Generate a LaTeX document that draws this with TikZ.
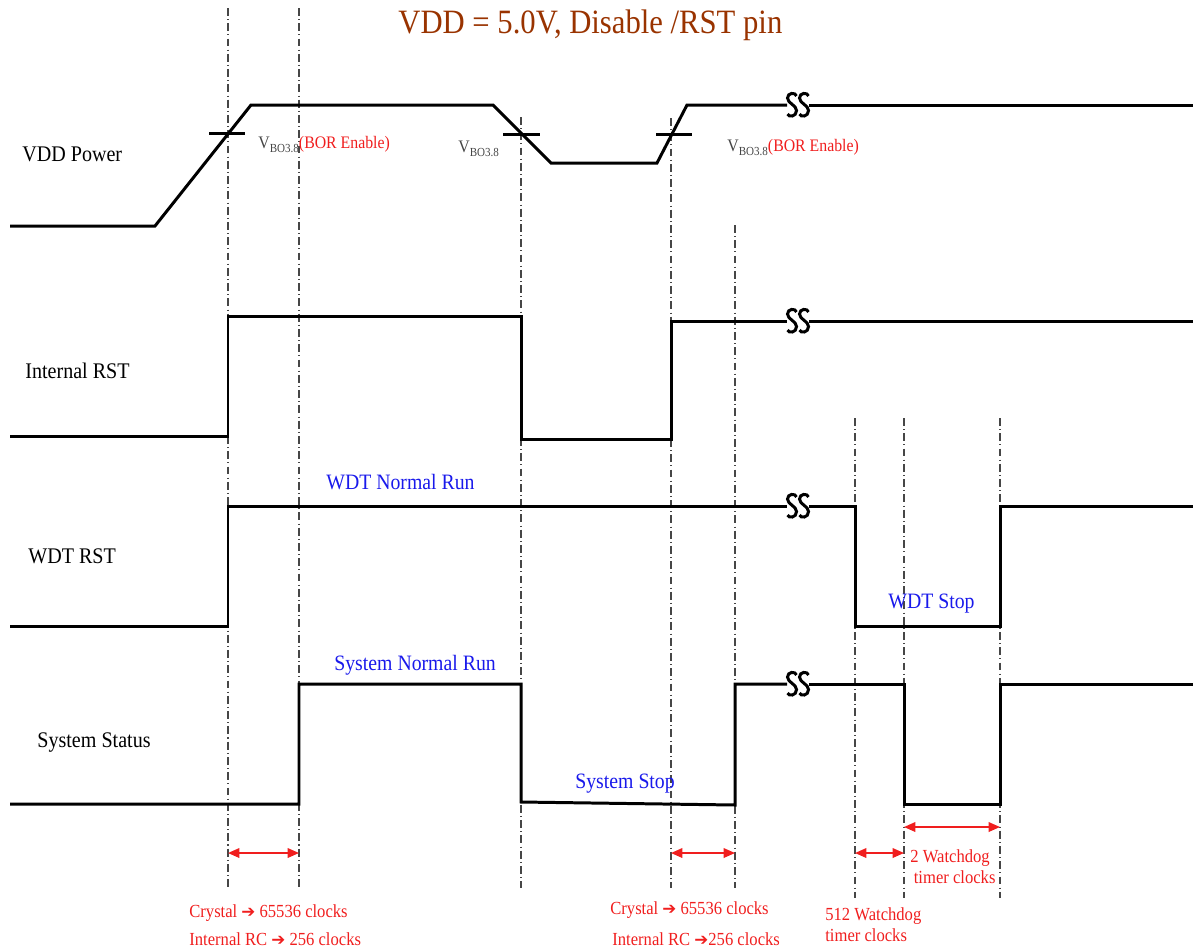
\documentclass[tikz,border=0pt]{standalone}
\usepackage{fontspec}
\setmainfont{Liberation Serif}[FakeStretch=0.9]
\newfontfamily\arrowfont{DejaVu Sans}
\usepackage{tikz}
\usetikzlibrary{arrows.meta, positioning, calc}
\definecolor{titlebrown}{RGB}{153,51,0}
\definecolor{notered}{RGB}{240,30,30}
\definecolor{stateblue}{RGB}{25,25,235}
\definecolor{levelgray}{RGB}{70,70,70}
\newcommand{\vbo}{V\raisebox{-0.55ex}{\fontsize{7}{8}\selectfont BO3.8}}
\newcommand{\rarr}{{\arrowfont\fontsize{9.5}{10}\selectfont ➔}}

\tikzset{
    brk/.pic={
        \foreach \dx in {-6,6} {
            \draw[line width=1.7pt] (\dx+4.5,-9) .. controls (\dx+3.5,-13) and (\dx-4.5,-12.5) .. (\dx-4.5,-7)
                .. controls (\dx-4.5,-1.5) and (\dx+4.5,0) .. (\dx+4.5,5.5)
                .. controls (\dx+4.5,12) and (\dx-3.5,12.5) .. (\dx-4.5,9);
        }
    }
}

\begin{document}
\begin{tikzpicture}[x=0.02cm, y=-0.02cm,
    trace/.style={line width=1.7pt, line join=miter},
    guide/.style={levelgray, line width=0.6pt, dash pattern=on 4.5pt off 1.8pt on 0.6pt off 1.8pt},
    span/.style={notered, line width=0.9pt, {Triangle[length=6.5pt,width=5.5pt]}-{Triangle[length=6.5pt,width=5.5pt]}},
    sig/.style={anchor=base west, inner sep=0pt, font=\fontsize{12.7}{15}\selectfont},
    state/.style={anchor=base west, inner sep=0pt, stateblue, font=\fontsize{12.5}{15}\selectfont},
    note/.style={anchor=base west, inner sep=0pt, notered, font=\fontsize{10.5}{11.4}\selectfont},
    level/.style={anchor=base west, inner sep=0pt, levelgray, font=\fontsize{10}{12}\selectfont}]
    \useasboundingbox (0,0) rectangle (1193,951);

    % Title
    \node[anchor=base west, inner sep=0pt, titlebrown, font=\fontsize{19.4}{22}\selectfont] (title) at (398,33) {VDD = 5.0V, Disable /RST pin};

    % Timing guides
    \foreach \name/\x/\top/\bot in {ta/228/8/888, tb/299/8/888, tc/521/117/888, td/671/118/888,
                                   te/735/225/888, tf/855/418/898, tg/904/418/898, th/1000/418/898} {
        \coordinate (\name) at (\x,\bot);
        \draw[guide] (\x,\top) -- (\name);
    }

    % Signal names
    \node[sig] (vddname) at (22,161) {VDD Power};
    \node[sig] (rstname) at (25,378) {Internal RST};
    \node[sig] (wdtname) at (28,563) {WDT RST};
    \node[sig] (sysname) at (37,747) {System Status};

    % VDD Power
    \draw[trace] (10,226) -- (155,226) -- (251,105) -- (493,105) -- (551,163) -- (657,163) -- (687,105) -- (787,105);
    \draw[trace] (809,105) -- (1193,105);
    \pic at (798,105) {brk};
    \draw[trace] (209,133) -- (245,133);
    \draw[trace] (503,134) -- (540,134);
    \draw[trace] (656,134) -- (692,134);
    \node[level] (vbo1) at (258,148) {\vbo\textcolor{notered}{(BOR Enable)}};
    \node[level] (vbo2) at (458,152) {\vbo};
    \node[level] (vbo3) at (727,151) {\vbo\textcolor{notered}{(BOR Enable)}};

    % Internal RST
    \draw[trace] (10,436) -- (228,436) -- (228,316) -- (521,316) -- (521,439) -- (671,439) -- (671,321) -- (787,321);
    \draw[trace] (809,321) -- (1193,321);
    \pic at (798,321) {brk};

    % WDT RST
    \draw[trace] (10,626) -- (228,626) -- (228,506) -- (787,506);
    \draw[trace] (809,506) -- (855,506) -- (855,626) -- (1000,626) -- (1000,506) -- (1193,506);
    \pic at (798,506) {brk};
    \node[state] (wdtrun) at (326,489) {WDT Normal Run};
    \node[state] (wdtstop) at (888,608) {WDT Stop};

    % System Status
    \draw[trace] (10,804) -- (299,804) -- (299,684) -- (521,684) -- (521,802) -- (735,805) -- (735,684) -- (787,684);
    \draw[trace] (809,684) -- (904,684) -- (904,804) -- (1000,804) -- (1000,684) -- (1193,684);
    \pic at (798,684) {brk};
    \node[state] (sysrun) at (334,670) {System Normal Run};
    \node[state] (sysstop) at (575,788) {System Stop};

    % Delays
    \coordinate (low) at (0,853);
    \coordinate (high) at (0,827);
    \draw[span] (ta |- low) -- (tb |- low);
    \draw[span] (td |- low) -- (te |- low);
    \draw[span] (tf |- low) -- (tg |- low);
    \draw[span] (tg |- high) -- (th |- high);
    \node[note] (xtal1) at (189,917) {Crystal \rarr\ 65536 clocks};
    \node[note] (irc1) at (189,945) {Internal RC \rarr\ 256 clocks};
    \node[note] (xtal2) at (610,914) {Crystal \rarr\ 65536 clocks};
    \node[note] (irc2) at (612,945) {Internal RC \rarr256 clocks};
    \node[note, align=left] (wdt512) at (825,941) {512 Watchdog\\timer clocks};
    \node[note, align=left] (wdt2) at (910,883) {2 Watchdog\\\hspace*{2pt}timer clocks};
\end{tikzpicture}
\end{document}
